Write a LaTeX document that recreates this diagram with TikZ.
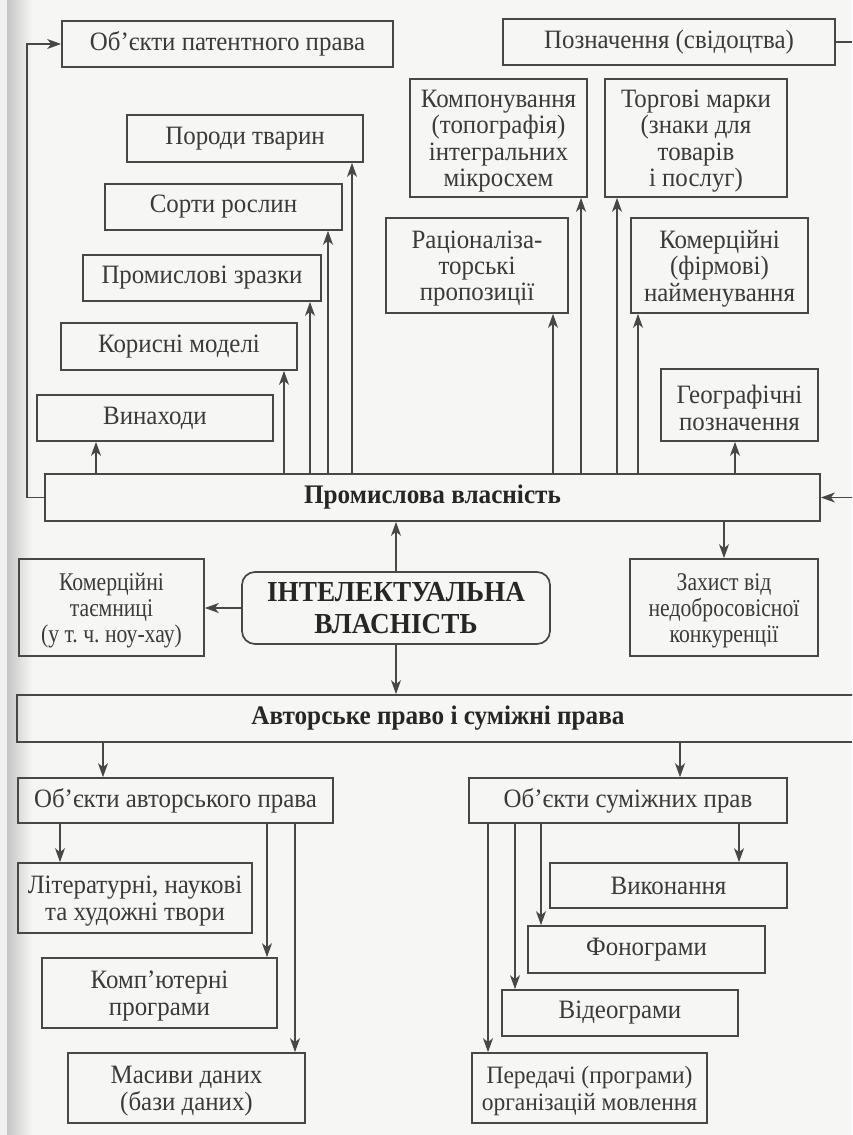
\documentclass[tikz,border=0pt]{standalone}
\usepackage{fontspec}
\setmainfont{Liberation Serif}[FakeStretch=0.94]
\newfontfamily\narrowserif[FakeStretch=0.85]{Liberation Serif}
\usetikzlibrary{arrows.meta}

\definecolor{ink}{HTML}{474747}
\definecolor{txt}{HTML}{3A3A3A}
\definecolor{paper}{HTML}{F6F6F4}

% box given by its corners (x1,y1)-(x2,y2); its text is set by a second
% node so that it can be lowered a little (#1 = style, #8 = lowering)
\newcommand\boxat[8]{%
  \node[#1, minimum width={#5-#3}, minimum height={#6-#4}]
    (#2) at ({(#3+#5)/2},{(#4+#6)/2}) {};
  \node[#1, draw=none, minimum width=0pt, minimum height=0pt]
    (#2-t) at ([yshift=-#8]#2.center) {#7};}
\newcommand\bx[7][box]{\boxat{#1}{#2}{#3}{#4}{#5}{#6}{#7}{0pt}}
\newcommand\mbx[7][box]{\boxat{#1}{#2}{#3}{#4}{#5}{#6}{#7}{3pt}}
% vertical connector at abscissa #3 from node anchor #1 to node anchor #2
\newcommand\vcon[3]{%
  \coordinate (tmpx) at (#3,0);
  \draw[arr] (#1 -| tmpx) -- (#2 -| tmpx);}

\begin{document}
\frenchspacing
\lineskiplimit=-100pt
\begin{tikzpicture}[x=1pt,y=-1pt,
  box/.style={draw=ink, line width=1.7pt, align=center, inner sep=0pt,
    text=txt, font=\fontsize{26.5}{26.3}\selectfont},
  sbox/.style={box, font=\fontsize{25}{26.5}\selectfont},
  nbox/.style={box, font=\fontsize{25.5}{26}\selectfont\narrowserif},
  bbox/.style={box, font=\fontsize{26.8}{26}\selectfont\bfseries, text=black!85},
  rbox/.style={box, rounded corners=13pt,
    font=\fontsize{29}{32}\selectfont\bfseries, text=black!85},
  arr/.style={draw=ink, line width=1.4pt,
    -{Stealth[length=14pt,width=10pt,inset=4pt]}}]
\useasboundingbox (0,0) rectangle (852,1135);
\clip (0,0) rectangle (852,1135);
\fill[paper] (0,0) rectangle (852,1135);
% shadow of the binding along the left edge
\fill[gray!12] (0,0) rectangle (7,1135);
\shade[left color=gray!45, right color=paper] (7,0) rectangle (32,1135);

% industrial property: upper boxes
\bx{pat}{62}{21}{393}{67}{Об’єкти патентного права}
\bx{poz}{503}{19}{835}{65}{Позначення (свідоцтва)}
\mbx{komp}{410}{79}{587}{197}{Компонування\\(топографія)\\інтегральних\\мікросхем}
\mbx{torg}{605}{79}{787}{197}{Торгові марки\\(знаки для\\товарів\\і послуг)}
\bx{por}{127}{115}{363}{162}{Породи тварин}
\bx{sort}{105}{184}{342}{230}{Сорти рослин}
\mbx{rac}{386}{218}{568}{313}{Раціоналіза-\\торські\\пропозиції}
\mbx{firm}{631}{218}{808}{313}{Комерційні\\(фірмові)\\найменування}
\bx{prz}{83}{255}{321}{301}{Промислові зразки}
\bx{kor}{61}{323}{297}{370}{Корисні моделі}
\bx{vyn}{37}{395}{273}{441}{Винаходи}
\mbx{geo}{661}{369}{818}{441}{Географічні\\позначення}
\bx[bbox]{pv}{45}{474}{820}{521}{Промислова власність}

% middle row
\mbx[nbox]{tay}{19}{559}{204}{656}{Комерційні\\таємниці\\(у т. ч. ноу-хау)}
\bx[rbox]{iv}{242}{572}{550}{644}{ІНТЕЛЕКТУАЛЬНА\\ВЛАСНІСТЬ}
\mbx[nbox]{zah}{630}{559}{818}{656}{Захист від\\недобросовісної\\конкуренції}

% copyright and related rights
\bx[bbox]{ap}{17}{695}{859}{742}{Авторське право і суміжні права}
\bx{oap}{18}{778}{333}{823}{Об’єкти авторського права}
\mbx{lit}{18}{863}{252}{933}{Літературні, наукові\\та художні твори}
\mbx{kmp}{42}{958}{277}{1028}{Комп’ютерні\\програми}
\mbx{mas}{68}{1053}{305}{1123}{Масиви даних\\(бази даних)}
\bx{osp}{469}{778}{787}{823}{Об’єкти суміжних прав}
\bx{vyk}{550}{863}{787}{908}{Виконання}
\bx{fon}{528}{926}{765}{973}{Фонограми}
\bx{vid}{502}{990}{738}{1036}{Відеограми}
\mbx[sbox]{per}{472}{1053}{707}{1123}{Передачі (програми)\\організацій мовлення}

% side loops
\coordinate (L) at (27,0);
\coordinate (R) at (866,0);
\draw[arr] (pv.west) -| (pat.west -| L) -- (pat.west);
\draw[arr] (poz.east) -- (poz.east -| R) -- (pv.east -| R) -- (pv.east);

% from industrial property upwards
\vcon{pv.north}{vyn.south}{96}
\vcon{pv.north}{kor.south}{284}
\vcon{pv.north}{prz.south}{310}
\vcon{pv.north}{sort.south}{328}
\vcon{pv.north}{por.south}{352}
\vcon{pv.north}{rac.south}{553}
\vcon{pv.north}{komp.south}{581}
\vcon{pv.north}{torg.south}{617}
\vcon{pv.north}{firm.south}{638}
\vcon{pv.north}{geo.south}{735}
\vcon{pv.south}{zah.north}{724}

% from the central node
\draw[arr] (iv.north) -- (iv.north |- pv.south);
\draw[arr] (iv.west) -- (iv.west -| tay.east);
\draw[arr] (iv.south) -- (iv.south |- ap.north);

% copyright branch
\vcon{ap.south}{oap.north}{103}
\vcon{ap.south}{osp.north}{680}
\vcon{oap.south}{lit.north}{60}
\vcon{oap.south}{kmp.north}{267}
\vcon{oap.south}{mas.north}{295}
\vcon{osp.south}{vyk.north}{739}
\vcon{osp.south}{fon.north}{541}
\vcon{osp.south}{vid.north}{515}
\vcon{osp.south}{per.north}{488}
\end{tikzpicture}
\end{document}
